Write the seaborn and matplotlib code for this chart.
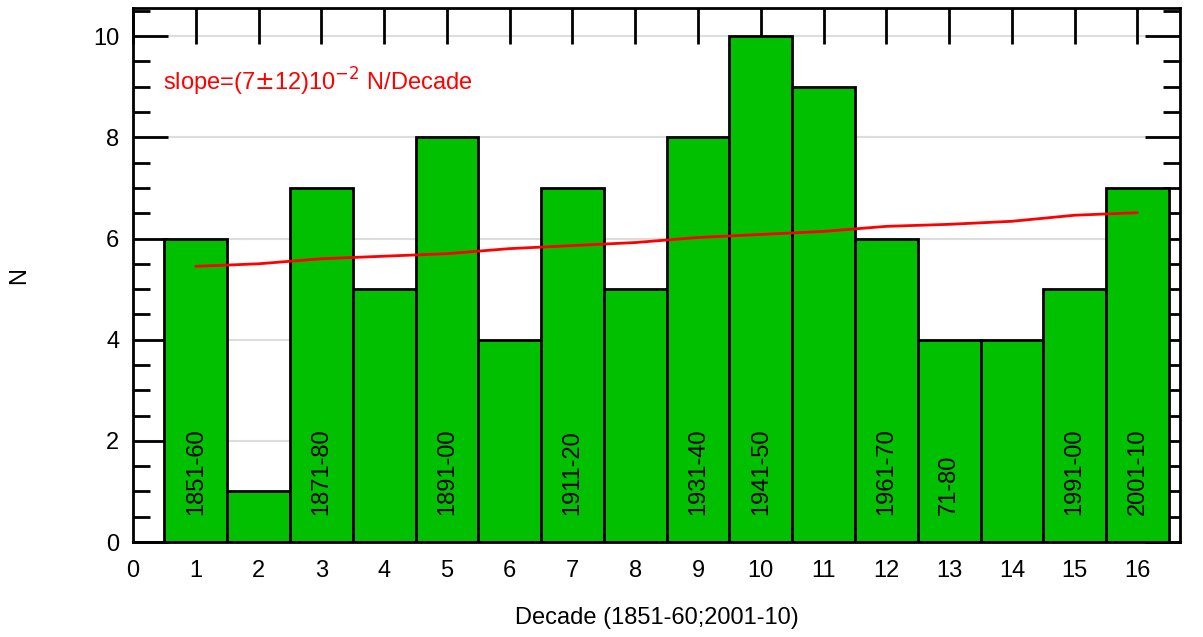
import seaborn as sns
import matplotlib.pyplot as plt
import pandas as pd
from matplotlib.ticker import MultipleLocator

decade = list(range(1, 17))
counts = [6, 1, 7, 5, 8, 4, 7, 5, 8, 10, 9, 6, 4, 4, 5, 7]
fit = [5.45, 5.5, 5.6, 5.65, 5.7, 5.8, 5.86, 5.92, 6.02, 6.08, 6.14, 6.24, 6.28, 6.34, 6.46, 6.51]
label_pos = [1, 3, 5, 7, 9, 10, 12, 13, 15, 16]
label_txt = ['1851-60', '1871-80', '1891-00', '1911-20', '1931-40', '1941-50',
             '1961-70', '71-80', '1991-00', '2001-10']

df = pd.DataFrame({'Decade': decade, 'N': counts, 'fit': fit})

sns.set_style('white')
plt.rcParams['font.family'] = ['Liberation Sans', 'DejaVu Sans']
plt.rcParams['text.color'] = 'black'
plt.rcParams['axes.labelcolor'] = 'black'
plt.rcParams['xtick.color'] = 'black'
plt.rcParams['ytick.color'] = 'black'

fig = plt.figure(figsize=(12.03, 6.37), dpi=100)
ax = fig.add_axes([0.1106, 0.149, 0.8704, 0.838])

for y in range(2, 11, 2):
    ax.axhline(y, color='#dddddd', lw=1.5, zorder=0)

sns.barplot(data=df, x='Decade', y='N', native_scale=True, width=1,
            color='#00c000', saturation=1, edgecolor='black', linewidth=2,
            ax=ax, zorder=2)
sns.lineplot(data=df, x='Decade', y='fit', color='red', lw=2, ax=ax, zorder=3)

for p, t in zip(label_pos, label_txt):
    ax.text(p, 0.53, t, rotation=90, ha='center', va='bottom', fontsize=17, zorder=4)

ax.text(0.48, 9.1, r'slope=(7$\pm$12)10$^{\mathsf{-2}}$ N/Decade', color='red',
        fontsize=17, va='center', ha='left')

ax.set_xlim(0, 16.68)
ax.set_ylim(0, 10.55)
ax.set_xticks(range(0, 17))
ax.yaxis.set_major_locator(MultipleLocator(2))
ax.yaxis.set_minor_locator(MultipleLocator(0.5))
ax.tick_params(axis='x', bottom=False, top=True, direction='in', length=26,
               width=2, labelsize=17, pad=13)
ax.tick_params(axis='y', which='major', left=True, right=True, direction='in',
               length=25, width=2, labelsize=17, pad=10)
ax.tick_params(axis='y', which='minor', left=True, right=True, direction='in',
               length=12, width=2)
for s in ax.spines.values():
    s.set_linewidth(2)
    s.set_color('black')
    s.set_zorder(5)

ax.set_xlabel('Decade (1851-60;2001-10)', fontsize=17, labelpad=18)
ax.set_ylabel('N', fontsize=17, labelpad=45)

fig.savefig('out.png', dpi=100)
